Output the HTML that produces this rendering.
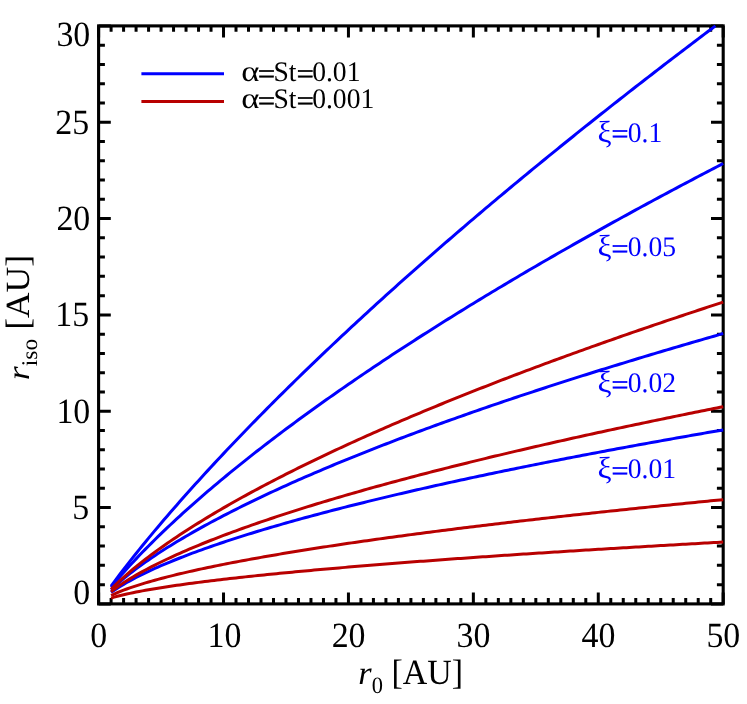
<!DOCTYPE html>
<html lang="en"><head><meta charset="utf-8"><title>r_iso vs r_0</title>
<style>html,body{margin:0;padding:0;background:#fff;}body{width:747px;height:704px;overflow:hidden;}svg{will-change:transform;display:block;position:absolute;left:0;top:0;}text{font-family:"Liberation Serif",serif;fill:#000;text-rendering:geometricPrecision;}</style></head><body>
<svg width="747" height="704" viewBox="0 0 747 704">
<rect x="0" y="0" width="747" height="704" fill="#ffffff"/>
<path d="M98.60 603.90 V592.40 M98.60 25.90 V37.40 M111.09 603.90 V598.10 M111.09 25.90 V31.70 M123.58 603.90 V598.10 M123.58 25.90 V31.70 M136.08 603.90 V598.10 M136.08 25.90 V31.70 M148.57 603.90 V598.10 M148.57 25.90 V31.70 M161.06 603.90 V598.10 M161.06 25.90 V31.70 M173.55 603.90 V598.10 M173.55 25.90 V31.70 M186.04 603.90 V598.10 M186.04 25.90 V31.70 M198.54 603.90 V598.10 M198.54 25.90 V31.70 M211.03 603.90 V598.10 M211.03 25.90 V31.70 M223.52 603.90 V592.40 M223.52 25.90 V37.40 M236.01 603.90 V598.10 M236.01 25.90 V31.70 M248.50 603.90 V598.10 M248.50 25.90 V31.70 M261.00 603.90 V598.10 M261.00 25.90 V31.70 M273.49 603.90 V598.10 M273.49 25.90 V31.70 M285.98 603.90 V598.10 M285.98 25.90 V31.70 M298.47 603.90 V598.10 M298.47 25.90 V31.70 M310.96 603.90 V598.10 M310.96 25.90 V31.70 M323.46 603.90 V598.10 M323.46 25.90 V31.70 M335.95 603.90 V598.10 M335.95 25.90 V31.70 M348.44 603.90 V592.40 M348.44 25.90 V37.40 M360.93 603.90 V598.10 M360.93 25.90 V31.70 M373.42 603.90 V598.10 M373.42 25.90 V31.70 M385.92 603.90 V598.10 M385.92 25.90 V31.70 M398.41 603.90 V598.10 M398.41 25.90 V31.70 M410.90 603.90 V598.10 M410.90 25.90 V31.70 M423.39 603.90 V598.10 M423.39 25.90 V31.70 M435.88 603.90 V598.10 M435.88 25.90 V31.70 M448.38 603.90 V598.10 M448.38 25.90 V31.70 M460.87 603.90 V598.10 M460.87 25.90 V31.70 M473.36 603.90 V592.40 M473.36 25.90 V37.40 M485.85 603.90 V598.10 M485.85 25.90 V31.70 M498.34 603.90 V598.10 M498.34 25.90 V31.70 M510.84 603.90 V598.10 M510.84 25.90 V31.70 M523.33 603.90 V598.10 M523.33 25.90 V31.70 M535.82 603.90 V598.10 M535.82 25.90 V31.70 M548.31 603.90 V598.10 M548.31 25.90 V31.70 M560.80 603.90 V598.10 M560.80 25.90 V31.70 M573.30 603.90 V598.10 M573.30 25.90 V31.70 M585.79 603.90 V598.10 M585.79 25.90 V31.70 M598.28 603.90 V592.40 M598.28 25.90 V37.40 M610.77 603.90 V598.10 M610.77 25.90 V31.70 M623.26 603.90 V598.10 M623.26 25.90 V31.70 M635.76 603.90 V598.10 M635.76 25.90 V31.70 M648.25 603.90 V598.10 M648.25 25.90 V31.70 M660.74 603.90 V598.10 M660.74 25.90 V31.70 M673.23 603.90 V598.10 M673.23 25.90 V31.70 M685.72 603.90 V598.10 M685.72 25.90 V31.70 M698.22 603.90 V598.10 M698.22 25.90 V31.70 M710.71 603.90 V598.10 M710.71 25.90 V31.70 M723.20 603.90 V592.40 M723.20 25.90 V37.40 M98.60 603.90 H110.80 M723.20 603.90 H711.00 M98.60 584.63 H104.90 M723.20 584.63 H716.90 M98.60 565.37 H104.90 M723.20 565.37 H716.90 M98.60 546.10 H104.90 M723.20 546.10 H716.90 M98.60 526.83 H104.90 M723.20 526.83 H716.90 M98.60 507.57 H110.80 M723.20 507.57 H711.00 M98.60 488.30 H104.90 M723.20 488.30 H716.90 M98.60 469.03 H104.90 M723.20 469.03 H716.90 M98.60 449.77 H104.90 M723.20 449.77 H716.90 M98.60 430.50 H104.90 M723.20 430.50 H716.90 M98.60 411.23 H110.80 M723.20 411.23 H711.00 M98.60 391.97 H104.90 M723.20 391.97 H716.90 M98.60 372.70 H104.90 M723.20 372.70 H716.90 M98.60 353.43 H104.90 M723.20 353.43 H716.90 M98.60 334.17 H104.90 M723.20 334.17 H716.90 M98.60 314.90 H110.80 M723.20 314.90 H711.00 M98.60 295.63 H104.90 M723.20 295.63 H716.90 M98.60 276.37 H104.90 M723.20 276.37 H716.90 M98.60 257.10 H104.90 M723.20 257.10 H716.90 M98.60 237.83 H104.90 M723.20 237.83 H716.90 M98.60 218.57 H110.80 M723.20 218.57 H711.00 M98.60 199.30 H104.90 M723.20 199.30 H716.90 M98.60 180.03 H104.90 M723.20 180.03 H716.90 M98.60 160.77 H104.90 M723.20 160.77 H716.90 M98.60 141.50 H104.90 M723.20 141.50 H716.90 M98.60 122.23 H110.80 M723.20 122.23 H711.00 M98.60 102.97 H104.90 M723.20 102.97 H716.90 M98.60 83.70 H104.90 M723.20 83.70 H716.90 M98.60 64.43 H104.90 M723.20 64.43 H716.90 M98.60 45.17 H104.90 M723.20 45.17 H716.90 M98.60 25.90 H110.80 M723.20 25.90 H711.00" stroke="#000" stroke-width="3" fill="none"/>
<rect x="98.60" y="25.90" width="624.60" height="578.00" fill="none" stroke="#000" stroke-width="3.1"/>
<g fill="none" stroke-width="3" stroke-linejoin="round">
<path d="M111.09 586.07 L114.22 581.82 L117.34 577.64 L120.46 573.51 L123.58 569.43 L126.71 565.39 L129.83 561.40 L132.95 557.44 L136.08 553.52 L139.20 549.63 L142.32 545.78 L145.44 541.96 L148.57 538.16 L151.69 534.40 L154.81 530.66 L157.94 526.94 L161.06 523.25 L164.18 519.59 L167.31 515.95 L170.43 512.32 L173.55 508.73 L176.68 505.15 L179.80 501.59 L182.92 498.05 L186.04 494.53 L189.17 491.03 L192.29 487.55 L195.41 484.08 L198.54 480.64 L201.66 477.21 L204.78 473.79 L207.91 470.39 L211.03 467.01 L214.15 463.64 L217.27 460.29 L220.40 456.95 L223.52 453.62 L226.64 450.31 L229.77 447.01 L232.89 443.73 L236.01 440.46 L239.13 437.20 L242.26 433.96 L245.38 430.72 L248.50 427.50 L251.63 424.29 L254.75 421.10 L257.87 417.91 L261.00 414.74 L264.12 411.58 L267.24 408.42 L270.37 405.28 L273.49 402.15 L276.61 399.03 L279.73 395.92 L282.86 392.83 L285.98 389.74 L289.10 386.66 L292.23 383.59 L295.35 380.53 L298.47 377.48 L301.60 374.44 L304.72 371.41 L307.84 368.38 L310.96 365.37 L314.09 362.36 L317.21 359.37 L320.33 356.38 L323.46 353.40 L326.58 350.43 L329.70 347.47 L332.83 344.52 L335.95 341.57 L339.07 338.63 L342.19 335.70 L345.32 332.78 L348.44 329.87 L351.56 326.96 L354.69 324.06 L357.81 321.17 L360.93 318.29 L364.06 315.41 L367.18 312.54 L370.30 309.68 L373.42 306.82 L376.55 303.97 L379.67 301.13 L382.79 298.30 L385.92 295.47 L389.04 292.65 L392.16 289.84 L395.28 287.03 L398.41 284.23 L401.53 281.43 L404.65 278.64 L407.78 275.86 L410.90 273.09 L414.02 270.32 L417.15 267.55 L420.27 264.80 L423.39 262.05 L426.51 259.30 L429.64 256.56 L432.76 253.83 L435.88 251.10 L439.01 248.38 L442.13 245.66 L445.25 242.95 L448.38 240.25 L451.50 237.55 L454.62 234.86 L457.75 232.17 L460.87 229.49 L463.99 226.81 L467.11 224.14 L470.24 221.47 L473.36 218.81 L476.48 216.15 L479.61 213.50 L482.73 210.86 L485.85 208.22 L488.98 205.58 L492.10 202.95 L495.22 200.33 L498.34 197.70 L501.47 195.09 L504.59 192.48 L507.71 189.87 L510.84 187.27 L513.96 184.68 L517.08 182.08 L520.21 179.50 L523.33 176.91 L526.45 174.34 L529.57 171.76 L532.70 169.20 L535.82 166.63 L538.94 164.07 L542.07 161.52 L545.19 158.97 L548.31 156.42 L551.44 153.88 L554.56 151.34 L557.68 148.81 L560.80 146.28 L563.93 143.76 L567.05 141.24 L570.17 138.72 L573.30 136.21 L576.42 133.70 L579.54 131.20 L582.67 128.70 L585.79 126.20 L588.91 123.71 L592.03 121.22 L595.16 118.74 L598.28 116.26 L601.40 113.78 L604.53 111.31 L607.65 108.84 L610.77 106.38 L613.90 103.92 L617.02 101.46 L620.14 99.01 L623.26 96.56 L626.39 94.12 L629.51 91.68 L632.63 89.24 L635.76 86.80 L638.88 84.37 L642.00 81.95 L645.13 79.52 L648.25 77.10 L651.37 74.69 L654.49 72.28 L657.62 69.87 L660.74 67.46 L663.86 65.06 L666.99 62.66 L670.11 60.27 L673.23 57.88 L676.36 55.49 L679.48 53.10 L682.60 50.72 L685.72 48.34 L688.85 45.97 L691.97 43.60 L695.09 41.23 L698.22 38.86 L701.34 36.50 L704.46 34.15 L707.59 31.79 L710.71 29.44 L713.83 27.09 L715.42 25.90" stroke="#0000ff"/>
<path d="M111.09 587.25 L114.22 583.44 L117.34 579.73 L120.46 576.09 L123.58 572.53 L126.71 569.03 L129.83 565.59 L132.95 562.20 L136.08 558.86 L139.20 555.57 L142.32 552.33 L145.44 549.12 L148.57 545.96 L151.69 542.83 L154.81 539.73 L157.94 536.67 L161.06 533.64 L164.18 530.64 L167.31 527.66 L170.43 524.72 L173.55 521.80 L176.68 518.91 L179.80 516.04 L182.92 513.20 L186.04 510.38 L189.17 507.58 L192.29 504.80 L195.41 502.04 L198.54 499.31 L201.66 496.59 L204.78 493.89 L207.91 491.21 L211.03 488.55 L214.15 485.91 L217.27 483.28 L220.40 480.67 L223.52 478.08 L226.64 475.50 L229.77 472.93 L232.89 470.38 L236.01 467.85 L239.13 465.33 L242.26 462.83 L245.38 460.33 L248.50 457.85 L251.63 455.39 L254.75 452.94 L257.87 450.50 L261.00 448.07 L264.12 445.65 L267.24 443.25 L270.37 440.86 L273.49 438.48 L276.61 436.11 L279.73 433.75 L282.86 431.40 L285.98 429.06 L289.10 426.74 L292.23 424.42 L295.35 422.12 L298.47 419.82 L301.60 417.53 L304.72 415.25 L307.84 412.99 L310.96 410.73 L314.09 408.48 L317.21 406.24 L320.33 404.01 L323.46 401.79 L326.58 399.57 L329.70 397.37 L332.83 395.17 L335.95 392.98 L339.07 390.80 L342.19 388.63 L345.32 386.46 L348.44 384.30 L351.56 382.16 L354.69 380.01 L357.81 377.88 L360.93 375.75 L364.06 373.63 L367.18 371.52 L370.30 369.41 L373.42 367.32 L376.55 365.23 L379.67 363.14 L382.79 361.06 L385.92 358.99 L389.04 356.93 L392.16 354.87 L395.28 352.82 L398.41 350.77 L401.53 348.73 L404.65 346.70 L407.78 344.68 L410.90 342.65 L414.02 340.64 L417.15 338.63 L420.27 336.63 L423.39 334.63 L426.51 332.64 L429.64 330.66 L432.76 328.68 L435.88 326.70 L439.01 324.74 L442.13 322.77 L445.25 320.82 L448.38 318.86 L451.50 316.92 L454.62 314.97 L457.75 313.04 L460.87 311.11 L463.99 309.18 L467.11 307.26 L470.24 305.34 L473.36 303.43 L476.48 301.53 L479.61 299.63 L482.73 297.73 L485.85 295.84 L488.98 293.95 L492.10 292.07 L495.22 290.19 L498.34 288.32 L501.47 286.45 L504.59 284.59 L507.71 282.73 L510.84 280.87 L513.96 279.02 L517.08 277.17 L520.21 275.33 L523.33 273.50 L526.45 271.66 L529.57 269.83 L532.70 268.01 L535.82 266.19 L538.94 264.37 L542.07 262.56 L545.19 260.75 L548.31 258.95 L551.44 257.15 L554.56 255.35 L557.68 253.56 L560.80 251.77 L563.93 249.98 L567.05 248.20 L570.17 246.43 L573.30 244.65 L576.42 242.88 L579.54 241.12 L582.67 239.35 L585.79 237.60 L588.91 235.84 L592.03 234.09 L595.16 232.34 L598.28 230.60 L601.40 228.86 L604.53 227.12 L607.65 225.39 L610.77 223.66 L613.90 221.93 L617.02 220.21 L620.14 218.49 L623.26 216.77 L626.39 215.06 L629.51 213.35 L632.63 211.64 L635.76 209.94 L638.88 208.24 L642.00 206.54 L645.13 204.85 L648.25 203.16 L651.37 201.47 L654.49 199.79 L657.62 198.11 L660.74 196.43 L663.86 194.75 L666.99 193.08 L670.11 191.41 L673.23 189.75 L676.36 188.08 L679.48 186.43 L682.60 184.77 L685.72 183.11 L688.85 181.46 L691.97 179.82 L695.09 178.17 L698.22 176.53 L701.34 174.89 L704.46 173.25 L707.59 171.62 L710.71 169.99 L713.83 168.36 L716.95 166.74 L720.08 165.11 L723.20 163.49" stroke="#0000ff"/>
<path d="M111.09 589.84 L114.22 586.89 L117.34 584.06 L120.46 581.34 L123.58 578.71 L126.71 576.16 L129.83 573.67 L132.95 571.25 L136.08 568.89 L139.20 566.58 L142.32 564.32 L145.44 562.10 L148.57 559.92 L151.69 557.79 L154.81 555.68 L157.94 553.62 L161.06 551.58 L164.18 549.57 L167.31 547.60 L170.43 545.65 L173.55 543.72 L176.68 541.82 L179.80 539.95 L182.92 538.09 L186.04 536.26 L189.17 534.45 L192.29 532.66 L195.41 530.88 L198.54 529.13 L201.66 527.39 L204.78 525.67 L207.91 523.97 L211.03 522.28 L214.15 520.61 L217.27 518.95 L220.40 517.31 L223.52 515.68 L226.64 514.07 L229.77 512.46 L232.89 510.87 L236.01 509.30 L239.13 507.73 L242.26 506.18 L245.38 504.64 L248.50 503.11 L251.63 501.59 L254.75 500.09 L257.87 498.59 L261.00 497.10 L264.12 495.62 L267.24 494.16 L270.37 492.70 L273.49 491.25 L276.61 489.81 L279.73 488.38 L282.86 486.96 L285.98 485.54 L289.10 484.14 L292.23 482.74 L295.35 481.35 L298.47 479.97 L301.60 478.60 L304.72 477.23 L307.84 475.87 L310.96 474.52 L314.09 473.18 L317.21 471.84 L320.33 470.51 L323.46 469.19 L326.58 467.87 L329.70 466.56 L332.83 465.25 L335.95 463.96 L339.07 462.67 L342.19 461.38 L345.32 460.10 L348.44 458.83 L351.56 457.56 L354.69 456.30 L357.81 455.05 L360.93 453.79 L364.06 452.55 L367.18 451.31 L370.30 450.08 L373.42 448.85 L376.55 447.62 L379.67 446.41 L382.79 445.19 L385.92 443.98 L389.04 442.78 L392.16 441.58 L395.28 440.39 L398.41 439.20 L401.53 438.02 L404.65 436.84 L407.78 435.66 L410.90 434.49 L414.02 433.32 L417.15 432.16 L420.27 431.00 L423.39 429.85 L426.51 428.70 L429.64 427.55 L432.76 426.41 L435.88 425.28 L439.01 424.14 L442.13 423.01 L445.25 421.89 L448.38 420.77 L451.50 419.65 L454.62 418.54 L457.75 417.43 L460.87 416.32 L463.99 415.22 L467.11 414.12 L470.24 413.02 L473.36 411.93 L476.48 410.84 L479.61 409.76 L482.73 408.68 L485.85 407.60 L488.98 406.52 L492.10 405.45 L495.22 404.38 L498.34 403.32 L501.47 402.26 L504.59 401.20 L507.71 400.14 L510.84 399.09 L513.96 398.04 L517.08 396.99 L520.21 395.95 L523.33 394.91 L526.45 393.87 L529.57 392.84 L532.70 391.81 L535.82 390.78 L538.94 389.75 L542.07 388.73 L545.19 387.71 L548.31 386.69 L551.44 385.68 L554.56 384.67 L557.68 383.66 L560.80 382.65 L563.93 381.65 L567.05 380.65 L570.17 379.65 L573.30 378.65 L576.42 377.66 L579.54 376.67 L582.67 375.68 L585.79 374.70 L588.91 373.71 L592.03 372.73 L595.16 371.75 L598.28 370.78 L601.40 369.80 L604.53 368.83 L607.65 367.87 L610.77 366.90 L613.90 365.93 L617.02 364.97 L620.14 364.01 L623.26 363.06 L626.39 362.10 L629.51 361.15 L632.63 360.20 L635.76 359.25 L638.88 358.30 L642.00 357.36 L645.13 356.42 L648.25 355.48 L651.37 354.54 L654.49 353.61 L657.62 352.67 L660.74 351.74 L663.86 350.81 L666.99 349.89 L670.11 348.96 L673.23 348.04 L676.36 347.12 L679.48 346.20 L682.60 345.28 L685.72 344.37 L688.85 343.45 L691.97 342.54 L695.09 341.63 L698.22 340.73 L701.34 339.82 L704.46 338.92 L707.59 338.02 L710.71 337.12 L713.83 336.22 L716.95 335.32 L720.08 334.43 L723.20 333.54" stroke="#0000ff"/>
<path d="M111.09 592.50 L114.22 590.31 L117.34 588.24 L120.46 586.27 L123.58 584.39 L126.71 582.57 L129.83 580.83 L132.95 579.14 L136.08 577.50 L139.20 575.90 L142.32 574.35 L145.44 572.83 L148.57 571.35 L151.69 569.90 L154.81 568.48 L157.94 567.09 L161.06 565.73 L164.18 564.39 L167.31 563.07 L170.43 561.77 L173.55 560.50 L176.68 559.24 L179.80 558.00 L182.92 556.78 L186.04 555.58 L189.17 554.39 L192.29 553.22 L195.41 552.06 L198.54 550.92 L201.66 549.79 L204.78 548.67 L207.91 547.57 L211.03 546.47 L214.15 545.39 L217.27 544.32 L220.40 543.27 L223.52 542.22 L226.64 541.18 L229.77 540.15 L232.89 539.13 L236.01 538.12 L239.13 537.12 L242.26 536.13 L245.38 535.15 L248.50 534.17 L251.63 533.21 L254.75 532.25 L257.87 531.29 L261.00 530.35 L264.12 529.41 L267.24 528.48 L270.37 527.56 L273.49 526.64 L276.61 525.73 L279.73 524.83 L282.86 523.93 L285.98 523.04 L289.10 522.15 L292.23 521.28 L295.35 520.40 L298.47 519.53 L301.60 518.67 L304.72 517.81 L307.84 516.96 L310.96 516.11 L314.09 515.27 L317.21 514.43 L320.33 513.60 L323.46 512.78 L326.58 511.95 L329.70 511.13 L332.83 510.32 L335.95 509.51 L339.07 508.71 L342.19 507.91 L345.32 507.11 L348.44 506.32 L351.56 505.53 L354.69 504.75 L357.81 503.97 L360.93 503.19 L364.06 502.42 L367.18 501.65 L370.30 500.88 L373.42 500.12 L376.55 499.36 L379.67 498.61 L382.79 497.86 L385.92 497.11 L389.04 496.37 L392.16 495.63 L395.28 494.89 L398.41 494.15 L401.53 493.42 L404.65 492.70 L407.78 491.97 L410.90 491.25 L414.02 490.53 L417.15 489.81 L420.27 489.10 L423.39 488.39 L426.51 487.68 L429.64 486.98 L432.76 486.28 L435.88 485.58 L439.01 484.88 L442.13 484.19 L445.25 483.50 L448.38 482.81 L451.50 482.13 L454.62 481.44 L457.75 480.76 L460.87 480.09 L463.99 479.41 L467.11 478.74 L470.24 478.07 L473.36 477.40 L476.48 476.73 L479.61 476.07 L482.73 475.41 L485.85 474.75 L488.98 474.09 L492.10 473.44 L495.22 472.78 L498.34 472.13 L501.47 471.49 L504.59 470.84 L507.71 470.20 L510.84 469.55 L513.96 468.92 L517.08 468.28 L520.21 467.64 L523.33 467.01 L526.45 466.38 L529.57 465.75 L532.70 465.12 L535.82 464.49 L538.94 463.87 L542.07 463.25 L545.19 462.63 L548.31 462.01 L551.44 461.39 L554.56 460.78 L557.68 460.17 L560.80 459.56 L563.93 458.95 L567.05 458.34 L570.17 457.73 L573.30 457.13 L576.42 456.53 L579.54 455.93 L582.67 455.33 L585.79 454.73 L588.91 454.13 L592.03 453.54 L595.16 452.95 L598.28 452.36 L601.40 451.77 L604.53 451.18 L607.65 450.59 L610.77 450.01 L613.90 449.43 L617.02 448.84 L620.14 448.26 L623.26 447.69 L626.39 447.11 L629.51 446.53 L632.63 445.96 L635.76 445.39 L638.88 444.81 L642.00 444.24 L645.13 443.68 L648.25 443.11 L651.37 442.54 L654.49 441.98 L657.62 441.42 L660.74 440.86 L663.86 440.30 L666.99 439.74 L670.11 439.18 L673.23 438.62 L676.36 438.07 L679.48 437.51 L682.60 436.96 L685.72 436.41 L688.85 435.86 L691.97 435.31 L695.09 434.77 L698.22 434.22 L701.34 433.67 L704.46 433.13 L707.59 432.59 L710.71 432.05 L713.83 431.51 L716.95 430.97 L720.08 430.43 L723.20 429.90" stroke="#0000ff"/>
<path d="M111.09 589.20 L114.22 586.06 L117.34 583.03 L120.46 580.10 L123.58 577.27 L126.71 574.51 L129.83 571.82 L132.95 569.19 L136.08 566.62 L139.20 564.10 L142.32 561.63 L145.44 559.21 L148.57 556.83 L151.69 554.49 L154.81 552.18 L157.94 549.91 L161.06 547.67 L164.18 545.46 L167.31 543.28 L170.43 541.13 L173.55 539.01 L176.68 536.91 L179.80 534.84 L182.92 532.79 L186.04 530.76 L189.17 528.75 L192.29 526.77 L195.41 524.80 L198.54 522.86 L201.66 520.93 L204.78 519.02 L207.91 517.12 L211.03 515.25 L214.15 513.39 L217.27 511.55 L220.40 509.72 L223.52 507.90 L226.64 506.10 L229.77 504.32 L232.89 502.55 L236.01 500.79 L239.13 499.04 L242.26 497.31 L245.38 495.59 L248.50 493.88 L251.63 492.18 L254.75 490.49 L257.87 488.82 L261.00 487.16 L264.12 485.50 L267.24 483.86 L270.37 482.23 L273.49 480.60 L276.61 478.99 L279.73 477.39 L282.86 475.79 L285.98 474.21 L289.10 472.63 L292.23 471.06 L295.35 469.50 L298.47 467.95 L301.60 466.41 L304.72 464.88 L307.84 463.35 L310.96 461.83 L314.09 460.32 L317.21 458.82 L320.33 457.32 L323.46 455.83 L326.58 454.35 L329.70 452.88 L332.83 451.41 L335.95 449.95 L339.07 448.50 L342.19 447.05 L345.32 445.61 L348.44 444.18 L351.56 442.75 L354.69 441.33 L357.81 439.91 L360.93 438.50 L364.06 437.10 L367.18 435.70 L370.30 434.31 L373.42 432.92 L376.55 431.54 L379.67 430.17 L382.79 428.80 L385.92 427.44 L389.04 426.08 L392.16 424.73 L395.28 423.38 L398.41 422.03 L401.53 420.70 L404.65 419.36 L407.78 418.04 L410.90 416.71 L414.02 415.39 L417.15 414.08 L420.27 412.77 L423.39 411.47 L426.51 410.17 L429.64 408.87 L432.76 407.58 L435.88 406.29 L439.01 405.01 L442.13 403.74 L445.25 402.46 L448.38 401.19 L451.50 399.93 L454.62 398.67 L457.75 397.41 L460.87 396.16 L463.99 394.91 L467.11 393.66 L470.24 392.42 L473.36 391.19 L476.48 389.95 L479.61 388.72 L482.73 387.50 L485.85 386.28 L488.98 385.06 L492.10 383.84 L495.22 382.63 L498.34 381.42 L501.47 380.22 L504.59 379.02 L507.71 377.82 L510.84 376.63 L513.96 375.44 L517.08 374.25 L520.21 373.07 L523.33 371.89 L526.45 370.71 L529.57 369.54 L532.70 368.37 L535.82 367.20 L538.94 366.03 L542.07 364.87 L545.19 363.71 L548.31 362.56 L551.44 361.41 L554.56 360.26 L557.68 359.11 L560.80 357.97 L563.93 356.83 L567.05 355.69 L570.17 354.56 L573.30 353.43 L576.42 352.30 L579.54 351.17 L582.67 350.05 L585.79 348.93 L588.91 347.81 L592.03 346.70 L595.16 345.58 L598.28 344.48 L601.40 343.37 L604.53 342.26 L607.65 341.16 L610.77 340.06 L613.90 338.97 L617.02 337.87 L620.14 336.78 L623.26 335.69 L626.39 334.61 L629.51 333.52 L632.63 332.44 L635.76 331.36 L638.88 330.29 L642.00 329.21 L645.13 328.14 L648.25 327.07 L651.37 326.00 L654.49 324.94 L657.62 323.88 L660.74 322.82 L663.86 321.76 L666.99 320.70 L670.11 319.65 L673.23 318.60 L676.36 317.55 L679.48 316.50 L682.60 315.46 L685.72 314.42 L688.85 313.38 L691.97 312.34 L695.09 311.30 L698.22 310.27 L701.34 309.24 L704.46 308.21 L707.59 307.18 L710.71 306.15 L713.83 305.13 L716.95 304.11 L720.08 303.09 L723.20 302.07" stroke="#b80000"/>
<path d="M111.09 591.73 L114.22 589.33 L117.34 587.06 L120.46 584.89 L123.58 582.81 L126.71 580.81 L129.83 578.87 L132.95 576.99 L136.08 575.17 L139.20 573.39 L142.32 571.65 L145.44 569.96 L148.57 568.30 L151.69 566.68 L154.81 565.09 L157.94 563.52 L161.06 561.99 L164.18 560.48 L167.31 559.00 L170.43 557.54 L173.55 556.11 L176.68 554.69 L179.80 553.29 L182.92 551.92 L186.04 550.56 L189.17 549.22 L192.29 547.89 L195.41 546.58 L198.54 545.29 L201.66 544.01 L204.78 542.75 L207.91 541.50 L211.03 540.26 L214.15 539.04 L217.27 537.82 L220.40 536.62 L223.52 535.43 L226.64 534.26 L229.77 533.09 L232.89 531.93 L236.01 530.79 L239.13 529.65 L242.26 528.52 L245.38 527.40 L248.50 526.30 L251.63 525.20 L254.75 524.10 L257.87 523.02 L261.00 521.95 L264.12 520.88 L267.24 519.82 L270.37 518.77 L273.49 517.72 L276.61 516.69 L279.73 515.66 L282.86 514.63 L285.98 513.62 L289.10 512.61 L292.23 511.61 L295.35 510.61 L298.47 509.62 L301.60 508.63 L304.72 507.66 L307.84 506.68 L310.96 505.72 L314.09 504.76 L317.21 503.80 L320.33 502.85 L323.46 501.90 L326.58 500.96 L329.70 500.03 L332.83 499.10 L335.95 498.17 L339.07 497.25 L342.19 496.34 L345.32 495.43 L348.44 494.52 L351.56 493.62 L354.69 492.72 L357.81 491.83 L360.93 490.94 L364.06 490.06 L367.18 489.18 L370.30 488.30 L373.42 487.43 L376.55 486.57 L379.67 485.70 L382.79 484.84 L385.92 483.99 L389.04 483.13 L392.16 482.29 L395.28 481.44 L398.41 480.60 L401.53 479.76 L404.65 478.93 L407.78 478.10 L410.90 477.27 L414.02 476.45 L417.15 475.63 L420.27 474.81 L423.39 473.99 L426.51 473.18 L429.64 472.38 L432.76 471.57 L435.88 470.77 L439.01 469.97 L442.13 469.18 L445.25 468.38 L448.38 467.59 L451.50 466.81 L454.62 466.02 L457.75 465.24 L460.87 464.47 L463.99 463.69 L467.11 462.92 L470.24 462.15 L473.36 461.38 L476.48 460.62 L479.61 459.85 L482.73 459.09 L485.85 458.34 L488.98 457.58 L492.10 456.83 L495.22 456.08 L498.34 455.34 L501.47 454.59 L504.59 453.85 L507.71 453.11 L510.84 452.37 L513.96 451.64 L517.08 450.90 L520.21 450.17 L523.33 449.45 L526.45 448.72 L529.57 448.00 L532.70 447.27 L535.82 446.55 L538.94 445.84 L542.07 445.12 L545.19 444.41 L548.31 443.70 L551.44 442.99 L554.56 442.28 L557.68 441.58 L560.80 440.88 L563.93 440.17 L567.05 439.48 L570.17 438.78 L573.30 438.08 L576.42 437.39 L579.54 436.70 L582.67 436.01 L585.79 435.32 L588.91 434.64 L592.03 433.95 L595.16 433.27 L598.28 432.59 L601.40 431.91 L604.53 431.24 L607.65 430.56 L610.77 429.89 L613.90 429.22 L617.02 428.55 L620.14 427.88 L623.26 427.22 L626.39 426.55 L629.51 425.89 L632.63 425.23 L635.76 424.57 L638.88 423.91 L642.00 423.25 L645.13 422.60 L648.25 421.95 L651.37 421.29 L654.49 420.64 L657.62 420.00 L660.74 419.35 L663.86 418.70 L666.99 418.06 L670.11 417.42 L673.23 416.78 L676.36 416.14 L679.48 415.50 L682.60 414.86 L685.72 414.23 L688.85 413.59 L691.97 412.96 L695.09 412.33 L698.22 411.70 L701.34 411.07 L704.46 410.45 L707.59 409.82 L710.71 409.20 L713.83 408.58 L716.95 407.96 L720.08 407.34 L723.20 406.72" stroke="#b80000"/>
<path d="M111.09 595.50 L114.22 594.04 L117.34 592.68 L120.46 591.40 L123.58 590.18 L126.71 589.02 L129.83 587.91 L132.95 586.84 L136.08 585.81 L139.20 584.81 L142.32 583.84 L145.44 582.90 L148.57 581.98 L151.69 581.09 L154.81 580.21 L157.94 579.36 L161.06 578.52 L164.18 577.70 L167.31 576.90 L170.43 576.11 L173.55 575.34 L176.68 574.57 L179.80 573.83 L182.92 573.09 L186.04 572.36 L189.17 571.65 L192.29 570.94 L195.41 570.25 L198.54 569.56 L201.66 568.89 L204.78 568.22 L207.91 567.56 L211.03 566.91 L214.15 566.26 L217.27 565.63 L220.40 565.00 L223.52 564.38 L226.64 563.76 L229.77 563.15 L232.89 562.55 L236.01 561.95 L239.13 561.36 L242.26 560.77 L245.38 560.19 L248.50 559.62 L251.63 559.05 L254.75 558.48 L257.87 557.92 L261.00 557.37 L264.12 556.81 L267.24 556.27 L270.37 555.73 L273.49 555.19 L276.61 554.65 L279.73 554.13 L282.86 553.60 L285.98 553.08 L289.10 552.56 L292.23 552.05 L295.35 551.54 L298.47 551.03 L301.60 550.52 L304.72 550.02 L307.84 549.53 L310.96 549.03 L314.09 548.54 L317.21 548.06 L320.33 547.57 L323.46 547.09 L326.58 546.61 L329.70 546.14 L332.83 545.66 L335.95 545.19 L339.07 544.73 L342.19 544.26 L345.32 543.80 L348.44 543.34 L351.56 542.88 L354.69 542.43 L357.81 541.98 L360.93 541.53 L364.06 541.08 L367.18 540.64 L370.30 540.19 L373.42 539.75 L376.55 539.32 L379.67 538.88 L382.79 538.45 L385.92 538.01 L389.04 537.59 L392.16 537.16 L395.28 536.73 L398.41 536.31 L401.53 535.89 L404.65 535.47 L407.78 535.05 L410.90 534.63 L414.02 534.22 L417.15 533.81 L420.27 533.40 L423.39 532.99 L426.51 532.58 L429.64 532.18 L432.76 531.78 L435.88 531.37 L439.01 530.97 L442.13 530.58 L445.25 530.18 L448.38 529.78 L451.50 529.39 L454.62 529.00 L457.75 528.61 L460.87 528.22 L463.99 527.83 L467.11 527.45 L470.24 527.06 L473.36 526.68 L476.48 526.30 L479.61 525.92 L482.73 525.54 L485.85 525.16 L488.98 524.78 L492.10 524.41 L495.22 524.04 L498.34 523.66 L501.47 523.29 L504.59 522.92 L507.71 522.56 L510.84 522.19 L513.96 521.82 L517.08 521.46 L520.21 521.10 L523.33 520.73 L526.45 520.37 L529.57 520.01 L532.70 519.66 L535.82 519.30 L538.94 518.94 L542.07 518.59 L545.19 518.23 L548.31 517.88 L551.44 517.53 L554.56 517.18 L557.68 516.83 L560.80 516.48 L563.93 516.13 L567.05 515.79 L570.17 515.44 L573.30 515.10 L576.42 514.76 L579.54 514.41 L582.67 514.07 L585.79 513.73 L588.91 513.39 L592.03 513.06 L595.16 512.72 L598.28 512.38 L601.40 512.05 L604.53 511.71 L607.65 511.38 L610.77 511.05 L613.90 510.72 L617.02 510.39 L620.14 510.06 L623.26 509.73 L626.39 509.40 L629.51 509.07 L632.63 508.75 L635.76 508.42 L638.88 508.10 L642.00 507.77 L645.13 507.45 L648.25 507.13 L651.37 506.81 L654.49 506.49 L657.62 506.17 L660.74 505.85 L663.86 505.53 L666.99 505.22 L670.11 504.90 L673.23 504.58 L676.36 504.27 L679.48 503.96 L682.60 503.64 L685.72 503.33 L688.85 503.02 L691.97 502.71 L695.09 502.40 L698.22 502.09 L701.34 501.78 L704.46 501.47 L707.59 501.16 L710.71 500.86 L713.83 500.55 L716.95 500.25 L720.08 499.94 L723.20 499.64" stroke="#b80000"/>
<path d="M111.09 598.09 L114.22 597.17 L117.34 596.31 L120.46 595.51 L123.58 594.76 L126.71 594.05 L129.83 593.36 L132.95 592.71 L136.08 592.08 L139.20 591.48 L142.32 590.89 L145.44 590.32 L148.57 589.77 L151.69 589.23 L154.81 588.71 L157.94 588.19 L161.06 587.69 L164.18 587.21 L167.31 586.73 L170.43 586.26 L173.55 585.80 L176.68 585.34 L179.80 584.90 L182.92 584.46 L186.04 584.03 L189.17 583.61 L192.29 583.20 L195.41 582.79 L198.54 582.38 L201.66 581.98 L204.78 581.59 L207.91 581.20 L211.03 580.82 L214.15 580.44 L217.27 580.07 L220.40 579.70 L223.52 579.33 L226.64 578.97 L229.77 578.61 L232.89 578.26 L236.01 577.91 L239.13 577.56 L242.26 577.22 L245.38 576.88 L248.50 576.55 L251.63 576.21 L254.75 575.88 L257.87 575.56 L261.00 575.23 L264.12 574.91 L267.24 574.60 L270.37 574.28 L273.49 573.97 L276.61 573.66 L279.73 573.35 L282.86 573.04 L285.98 572.74 L289.10 572.44 L292.23 572.14 L295.35 571.84 L298.47 571.55 L301.60 571.26 L304.72 570.97 L307.84 570.68 L310.96 570.39 L314.09 570.11 L317.21 569.83 L320.33 569.55 L323.46 569.27 L326.58 568.99 L329.70 568.72 L332.83 568.44 L335.95 568.17 L339.07 567.90 L342.19 567.63 L345.32 567.37 L348.44 567.10 L351.56 566.84 L354.69 566.57 L357.81 566.31 L360.93 566.05 L364.06 565.80 L367.18 565.54 L370.30 565.28 L373.42 565.03 L376.55 564.78 L379.67 564.53 L382.79 564.28 L385.92 564.03 L389.04 563.78 L392.16 563.53 L395.28 563.29 L398.41 563.05 L401.53 562.80 L404.65 562.56 L407.78 562.32 L410.90 562.08 L414.02 561.84 L417.15 561.61 L420.27 561.37 L423.39 561.14 L426.51 560.90 L429.64 560.67 L432.76 560.44 L435.88 560.21 L439.01 559.98 L442.13 559.75 L445.25 559.52 L448.38 559.29 L451.50 559.07 L454.62 558.84 L457.75 558.62 L460.87 558.40 L463.99 558.17 L467.11 557.95 L470.24 557.73 L473.36 557.51 L476.48 557.29 L479.61 557.08 L482.73 556.86 L485.85 556.64 L488.98 556.43 L492.10 556.21 L495.22 556.00 L498.34 555.79 L501.47 555.57 L504.59 555.36 L507.71 555.15 L510.84 554.94 L513.96 554.73 L517.08 554.52 L520.21 554.32 L523.33 554.11 L526.45 553.90 L529.57 553.70 L532.70 553.49 L535.82 553.29 L538.94 553.08 L542.07 552.88 L545.19 552.68 L548.31 552.48 L551.44 552.28 L554.56 552.07 L557.68 551.88 L560.80 551.68 L563.93 551.48 L567.05 551.28 L570.17 551.08 L573.30 550.89 L576.42 550.69 L579.54 550.49 L582.67 550.30 L585.79 550.11 L588.91 549.91 L592.03 549.72 L595.16 549.53 L598.28 549.33 L601.40 549.14 L604.53 548.95 L607.65 548.76 L610.77 548.57 L613.90 548.38 L617.02 548.19 L620.14 548.01 L623.26 547.82 L626.39 547.63 L629.51 547.45 L632.63 547.26 L635.76 547.07 L638.88 546.89 L642.00 546.70 L645.13 546.52 L648.25 546.34 L651.37 546.15 L654.49 545.97 L657.62 545.79 L660.74 545.61 L663.86 545.43 L666.99 545.25 L670.11 545.07 L673.23 544.89 L676.36 544.71 L679.48 544.53 L682.60 544.35 L685.72 544.17 L688.85 544.00 L691.97 543.82 L695.09 543.64 L698.22 543.47 L701.34 543.29 L704.46 543.11 L707.59 542.94 L710.71 542.77 L713.83 542.59 L716.95 542.42 L720.08 542.25 L723.20 542.07" stroke="#b80000"/>
</g>
<path d="M141.4 73.85 H224" stroke="#0000ff" stroke-width="3"/>
<path d="M141.4 101.4 H224" stroke="#b80000" stroke-width="3"/>
<g transform="translate(98.75 647.40) scale(0.9550 1.0000)"><text x="0" y="0" font-size="35.50" text-anchor="middle">0</text></g>
<g transform="translate(224.42 647.40) scale(0.9550 1.0000)"><text x="0" y="0" font-size="35.50" text-anchor="middle">10</text></g>
<g transform="translate(348.59 647.40) scale(0.9550 1.0000)"><text x="0" y="0" font-size="35.50" text-anchor="middle">20</text></g>
<g transform="translate(473.51 647.40) scale(0.9550 1.0000)"><text x="0" y="0" font-size="35.50" text-anchor="middle">30</text></g>
<g transform="translate(598.43 647.40) scale(0.9550 1.0000)"><text x="0" y="0" font-size="35.50" text-anchor="middle">40</text></g>
<g transform="translate(723.35 647.40) scale(0.9550 1.0000)"><text x="0" y="0" font-size="35.50" text-anchor="middle">50</text></g>
<g transform="translate(90.30 604.30) scale(0.9550 1.0000)"><text x="0" y="0" font-size="35.50" text-anchor="end">0</text></g>
<g transform="translate(89.10 519.07) scale(0.9550 1.0000)"><text x="0" y="0" font-size="35.50" text-anchor="end">5</text></g>
<g transform="translate(90.30 422.73) scale(0.9550 1.0000)"><text x="0" y="0" font-size="35.50" text-anchor="end">10</text></g>
<g transform="translate(89.10 326.40) scale(0.9550 1.0000)"><text x="0" y="0" font-size="35.50" text-anchor="end">15</text></g>
<g transform="translate(90.30 230.07) scale(0.9550 1.0000)"><text x="0" y="0" font-size="35.50" text-anchor="end">20</text></g>
<g transform="translate(89.10 133.73) scale(0.9550 1.0000)"><text x="0" y="0" font-size="35.50" text-anchor="end">25</text></g>
<g transform="translate(90.30 46.20) scale(0.9550 1.0000)"><text x="0" y="0" font-size="35.50" text-anchor="end">30</text></g>
<g transform="translate(358.30 684.30) scale(1.0400 1)"><text x="0" y="0" font-size="33.00" font-style="italic">r</text></g>
<g transform="translate(371.80 684.30) scale(0.9550 1.0000)"><text x="0" y="0" font-size="35.50" text-anchor="start"><tspan font-size="23.50" dy="8.70">0</tspan><tspan dy="-8.70"> [AU]</tspan></text></g>
<g transform="translate(29.00 380.30) rotate(-90) scale(1.0890 0.9550)"><text x="0" y="0" font-size="33.00" font-style="italic">r</text></g>
<g transform="translate(29.00 366.18) rotate(-90) scale(1.0000 0.9550)"><text x="0" y="0" font-size="35.50" text-anchor="start"><tspan font-size="23.50" dy="8.70">iso</tspan><tspan dy="-8.70"> [AU]</tspan></text></g>
<g transform="translate(241.18 80.70) scale(1.1800 1)"><text x="0" y="0" font-size="29.40">α</text></g>
<g transform="translate(258.02 82.50) scale(1.0900 1)"><text x="0" y="0" font-size="27.60" style="fill:#000;stroke:#000;stroke-width:0.60">=</text></g>
<g transform="translate(273.50 80.70) scale(0.9753 1)"><text x="0" y="0" font-size="28.30">St</text></g>
<g transform="translate(296.82 82.50) scale(1.0900 1)"><text x="0" y="0" font-size="27.60" style="fill:#000;stroke:#000;stroke-width:0.60">=</text></g>
<g transform="translate(312.15 80.70) scale(0.9753 1)"><text x="0" y="0" font-size="28.30">0.01</text></g>
<g transform="translate(241.18 108.25) scale(1.1800 1)"><text x="0" y="0" font-size="29.40">α</text></g>
<g transform="translate(258.02 110.05) scale(1.0900 1)"><text x="0" y="0" font-size="27.60" style="fill:#000;stroke:#000;stroke-width:0.60">=</text></g>
<g transform="translate(273.50 108.25) scale(0.9753 1)"><text x="0" y="0" font-size="28.30">St</text></g>
<g transform="translate(296.82 110.05) scale(1.0900 1)"><text x="0" y="0" font-size="27.60" style="fill:#000;stroke:#000;stroke-width:0.60">=</text></g>
<g transform="translate(312.15 108.25) scale(0.9753 1)"><text x="0" y="0" font-size="28.30">0.001</text></g>
<g transform="translate(597.51 141.50) scale(1.0400 1)"><text x="0" y="0" font-size="30.40" style="fill:#0000ff">ξ</text></g>
<g transform="translate(611.52 143.30) scale(1.0900 1)"><text x="0" y="0" font-size="27.60" style="fill:#0000ff;stroke:#0000ff;stroke-width:0.60">=</text></g>
<g transform="translate(627.75 141.50) scale(0.9753 1)"><text x="0" y="0" font-size="28.30" style="fill:#0000ff">0.1</text></g>
<g transform="translate(597.51 255.80) scale(1.0400 1)"><text x="0" y="0" font-size="30.40" style="fill:#0000ff">ξ</text></g>
<g transform="translate(611.52 257.60) scale(1.0900 1)"><text x="0" y="0" font-size="27.60" style="fill:#0000ff;stroke:#0000ff;stroke-width:0.60">=</text></g>
<g transform="translate(627.75 255.80) scale(0.9753 1)"><text x="0" y="0" font-size="28.30" style="fill:#0000ff">0.05</text></g>
<g transform="translate(597.51 391.90) scale(1.0400 1)"><text x="0" y="0" font-size="30.40" style="fill:#0000ff">ξ</text></g>
<g transform="translate(611.52 393.70) scale(1.0900 1)"><text x="0" y="0" font-size="27.60" style="fill:#0000ff;stroke:#0000ff;stroke-width:0.60">=</text></g>
<g transform="translate(627.75 391.90) scale(0.9753 1)"><text x="0" y="0" font-size="28.30" style="fill:#0000ff">0.02</text></g>
<g transform="translate(597.51 478.30) scale(1.0400 1)"><text x="0" y="0" font-size="30.40" style="fill:#0000ff">ξ</text></g>
<g transform="translate(611.52 480.10) scale(1.0900 1)"><text x="0" y="0" font-size="27.60" style="fill:#0000ff;stroke:#0000ff;stroke-width:0.60">=</text></g>
<g transform="translate(627.75 478.30) scale(0.9753 1)"><text x="0" y="0" font-size="28.30" style="fill:#0000ff">0.01</text></g>
</svg></body></html>
